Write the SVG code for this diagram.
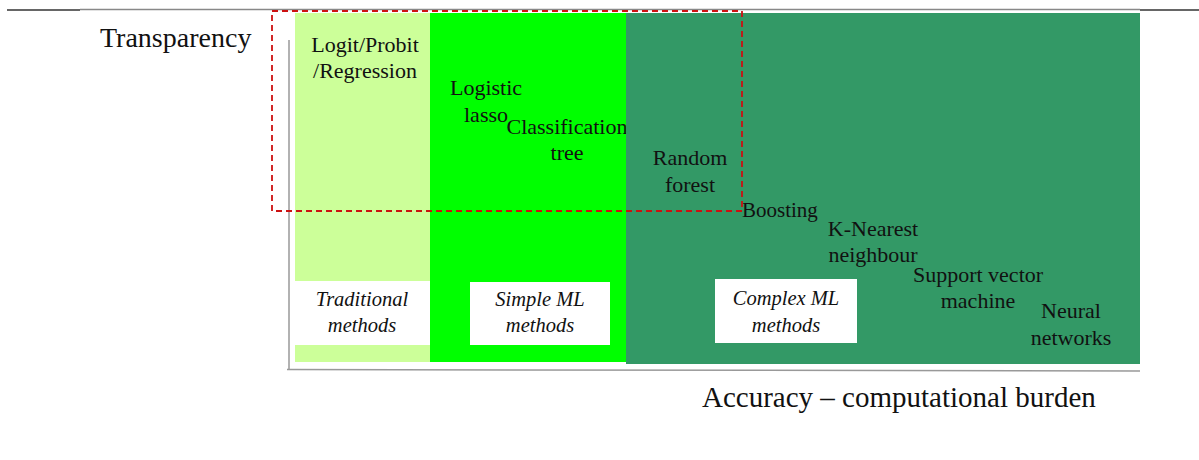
<svg xmlns="http://www.w3.org/2000/svg" width="1199" height="460" viewBox="0 0 1199 460">
<style>
text{font-family:"Liberation Serif","DejaVu Serif",serif;fill:#111;}
.m{font-size:22px;text-anchor:middle;}
.l{font-size:21px;}
.i{font-size:20.5px;font-style:italic;text-anchor:middle;}
.box{fill:#fff;}
</style>
<rect width="1199" height="460" fill="#fff"/>
<g id="frame">
<line x1="80" y1="9.5" x2="1140" y2="9.5" stroke="#888" stroke-width="1.5"/>
<line x1="7" y1="10" x2="80" y2="10" stroke="#333" stroke-width="1.5"/>
<line x1="1140" y1="10" x2="1199" y2="10" stroke="#333" stroke-width="1.5"/>
</g>
<g id="panel-traditional">
<rect x="295" y="13" width="135" height="349" fill="#ccff99"/>
<text class="m" x="365" y="52">Logit/Probit</text>
<text class="m" x="365" y="78">/Regression</text>
<rect class="box" x="295" y="281" width="135" height="64"/>
<text class="i" x="362" y="306">Traditional</text>
<text class="i" x="362" y="332">methods</text>
</g>
<g id="panel-simple">
<rect x="430" y="13" width="196" height="349" fill="#00ff00"/>
<text class="m" x="486" y="95">Logistic</text>
<text class="m" x="486" y="122">lasso</text>
<text class="m" x="567" y="134">Classification</text>
<text class="m" x="567" y="160">tree</text>
<rect class="box" x="470" y="282" width="140" height="63"/>
<text class="i" x="540" y="306">Simple ML</text>
<text class="i" x="540" y="332">methods</text>
</g>
<g id="panel-complex">
<rect x="626" y="13" width="514" height="351" fill="#339966"/>
<text class="m" x="690" y="165">Random</text>
<text class="m" x="690" y="192">forest</text>
<text class="l" x="742" y="217">Boosting</text>
<text class="m" x="873" y="236">K-Nearest</text>
<text class="m" x="873" y="262">neighbour</text>
<text class="m" x="978" y="282">Support vector</text>
<text class="m" x="978" y="308">machine</text>
<text class="m" x="1071" y="318">Neural</text>
<text class="m" x="1071" y="345">networks</text>
<rect class="box" x="715" y="279" width="142" height="64"/>
<text class="i" x="786" y="305">Complex ML</text>
<text class="i" x="786" y="332">methods</text>
</g>
<g id="connectors">
<line x1="289" y1="40" x2="289" y2="370" stroke="#999" stroke-width="1.5"/>
<line x1="287" y1="369.5" x2="1140" y2="371" stroke="#999" stroke-width="1.5"/>
<rect x="272" y="11" width="470" height="200" fill="none" stroke="#cc1111" stroke-width="1.8" stroke-dasharray="6 4"/>
</g>
<g id="axis-labels">
<text x="100" y="47" style="font-size:28px">Transparency</text>
<text x="702" y="407" style="font-size:29px">Accuracy – computational burden</text>
</g>
</svg>
